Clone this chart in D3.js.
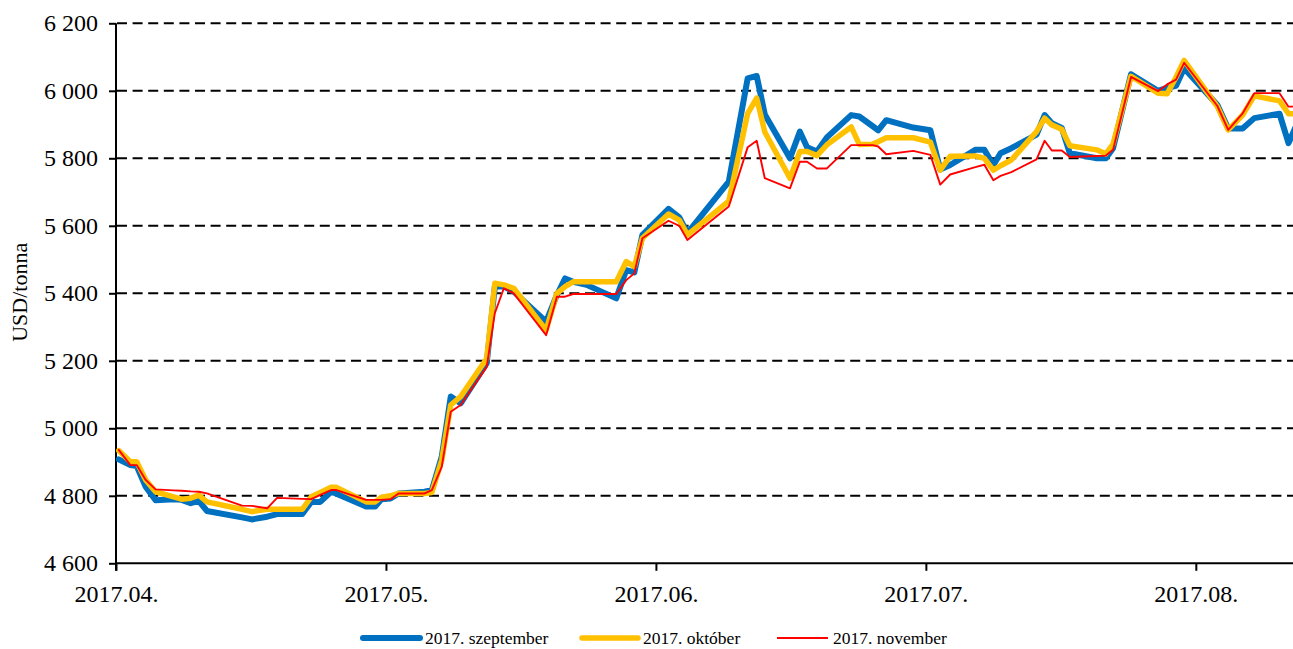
<!DOCTYPE html>
<html>
<head>
<meta charset="utf-8">
<script src="https://cdn.jsdelivr.net/npm/d3@7"></script>
<style>
  html, body { margin: 0; padding: 0; background: #fff; }
  svg { display: block; }
  text { font-family: "Liberation Serif", "Times New Roman", serif; fill: #000; }
</style>
</head>
<body>
<svg id="chart" width="1293" height="649"></svg>
<script>
// Trading-day positions (in days from the start of April) shared by all three contracts
const dayPos = [0.3,1.6,2.3,3.3,4.4,6.4,7.3,8.3,9.2,10.1,14.0,15.1,16.8,17.9,20.7,21.7,22.7,23.9,24.5,27.8,28.8,29.5,30.5,31.4,34.3,35.1,36.2,37.2,38.3,41.2,42.1,43.1,44.2,47.8,49.0,49.9,50.8,52.3,55.6,56.7,57.6,58.5,61.4,62.6,63.5,68.1,70.2,71.2,72.1,74.9,76.0,76.8,77.9,79.0,81.7,82.6,84.1,84.7,85.6,88.6,90.5,91.6,92.7,95.5,96.5,97.5,98.3,99.5,102.3,103.2,104.0,105.1,106.0,109.0,110.0,110.8,112.8,115.8,116.8,117.8,118.7,122.4,123.6,125.2,126.5,129.3,130.3,131.3];

// USD/tonna quotes for each delivery month
const septValues = [4908,4891,4888,4827,4787,4790,4788,4778,4785,4755,4736,4730,4738,4746,4746,4782,4782,4812,4806,4768,4768,4790,4792,4807,4812,4817,4916,5094,5074,5193,5420,5420,5405,5316,5395,5444,5434,5425,5385,5469,5462,5573,5650,5625,5578,5731,6037,6044,5930,5800,5879,5833,5820,5862,5928,5924,5895,5883,5913,5891,5883,5767,5780,5825,5825,5780,5815,5830,5870,5928,5904,5890,5815,5800,5800,5830,6049,6000,6009,6015,6067,5958,5888,5888,5919,5932,5845,5905];
const oktValues  = [4934,4901,4901,4847,4812,4797,4790,4793,4802,4782,4760,4753,4760,4760,4760,4797,4810,4825,4825,4782,4782,4796,4800,4807,4807,4810,4906,5069,5094,5207,5430,5425,5415,5291,5400,5420,5434,5434,5434,5494,5479,5563,5635,5617,5573,5673,5933,5978,5878,5741,5820,5820,5808,5840,5893,5841,5842,5849,5861,5861,5848,5765,5806,5807,5800,5765,5778,5795,5879,5919,5899,5886,5837,5825,5813,5842,6043,5993,5991,6040,6090,5953,5884,5928,5985,5970,5932,5932];
const novValues  = [4936,4891,4891,4847,4819,4816,4815,4813,4812,4807,4771,4770,4763,4794,4791,4790,4803,4817,4817,4788,4788,4788,4790,4807,4807,4817,4886,5049,5069,5182,5341,5415,5400,5276,5390,5390,5398,5398,5398,5439,5459,5563,5615,5600,5558,5657,5833,5852,5741,5711,5790,5790,5770,5770,5839,5839,5839,5835,5812,5822,5810,5722,5752,5774,5781,5735,5748,5759,5797,5852,5823,5823,5804,5807,5808,5825,6041,5999,6019,6033,6083,5955,5884,5933,5993,5993,5953,5953];

const seriesNames = ["2017. szeptember", "2017. október", "2017. november"];
const seriesColors = ["#0070C0", "#FFC000", "#FF0000"];
const seriesWidths = [6, 5.5, 1.9];

// Axis ticks
const xTickPos = [0, 30, 60, 90, 120];
const xTickLabels = ["2017.04.", "2017.05.", "2017.06.", "2017.07.", "2017.08."];
const yTicks = [4600, 4800, 5000, 5200, 5400, 5600, 5800, 6000, 6200];
const yTitle = "USD/tonna";

const svg = d3.select("#chart");
const plotLeft = 116, plotRight = 1293, plotTop = 23.3, plotBottom = 563.3;

const x = d3.scaleLinear().domain([0, 130.8]).range([plotLeft, plotRight]);
const y = d3.scaleLinear().domain([4600, 6200]).range([plotBottom, plotTop]);

const fmt = v => d3.format(",")(v).replace(",", " ");

// Dashed horizontal gridlines
svg.append("g")
  .selectAll("line")
  .data(yTicks.filter(v => v > 4600))
  .join("line")
  .attr("x1", plotLeft + 1).attr("x2", plotRight)
  .attr("y1", d => y(d)).attr("y2", d => y(d))
  .attr("stroke", "#000")
  .attr("stroke-width", 2)
  .attr("stroke-dasharray", "10,5.6");

// Y axis
const yAxis = d3.axisLeft(y).tickValues(yTicks).tickSize(7).tickPadding(11).tickFormat(fmt);
const gy = svg.append("g").attr("transform", `translate(${plotLeft},0)`).call(yAxis);
gy.attr("font-family", null);
gy.select(".domain").attr("stroke", "#000").attr("stroke-width", 2).attr("d", `M0,${plotTop}V${plotBottom + 7.5}`);
gy.selectAll(".tick line").attr("stroke", "#000").attr("stroke-width", 2);
gy.selectAll(".tick text").attr("font-size", 24).attr("fill", "#000");

// X axis
const xAxis = d3.axisBottom(x).tickValues(xTickPos).tickSize(7.5).tickPadding(14)
  .tickFormat((d, i) => xTickLabels[i]);
const gx = svg.append("g").attr("transform", `translate(0,${plotBottom})`).call(xAxis);
gx.attr("font-family", null);
gx.select(".domain").attr("stroke", "#000").attr("stroke-width", 2).attr("d", `M${plotLeft},0H${plotRight}`);
gx.selectAll(".tick line").attr("stroke", "#000").attr("stroke-width", 2);
gx.selectAll(".tick text").attr("font-size", 24).attr("fill", "#000");

// Y axis title
svg.append("text")
  .attr("transform", `translate(27,${(plotTop + plotBottom) / 2 - 1}) rotate(-90)`)
  .attr("text-anchor", "middle")
  .attr("font-size", 22)
  .text(yTitle);

// Price lines
const allValues = [septValues, oktValues, novValues];
const line = d3.line()
  .x((d, i) => x(dayPos[i]))
  .y(d => y(d));

svg.append("clipPath").attr("id", "plot-clip")
  .append("rect").attr("x", plotLeft).attr("y", 0).attr("width", plotRight - plotLeft).attr("height", plotBottom);

const gLines = svg.append("g").attr("clip-path", "url(#plot-clip)");
allValues.forEach((vals, k) => {
  gLines.append("path")
    .datum(vals)
    .attr("d", line)
    .attr("fill", "none")
    .attr("stroke", seriesColors[k])
    .attr("stroke-width", seriesWidths[k])
    .attr("stroke-linejoin", "round")
    .attr("stroke-linecap", "round");
});

// Legend
const legendX = [363, 582, 777];
const legendLen = [57, 56, 51];
const legendY = 638;
const gLeg = svg.append("g");
seriesNames.forEach((name, k) => {
  gLeg.append("line")
    .attr("x1", legendX[k]).attr("x2", legendX[k] + legendLen[k])
    .attr("y1", legendY).attr("y2", legendY)
    .attr("stroke", seriesColors[k])
    .attr("stroke-width", seriesWidths[k])
    .attr("stroke-linecap", k < 2 ? "round" : "butt");
  gLeg.append("text")
    .attr("x", legendX[k] + legendLen[k] + 5)
    .attr("y", legendY)
    .attr("dy", "0.35em")
    .attr("font-size", 17.5)
    .text(name);
});
</script>
</body>
</html>
